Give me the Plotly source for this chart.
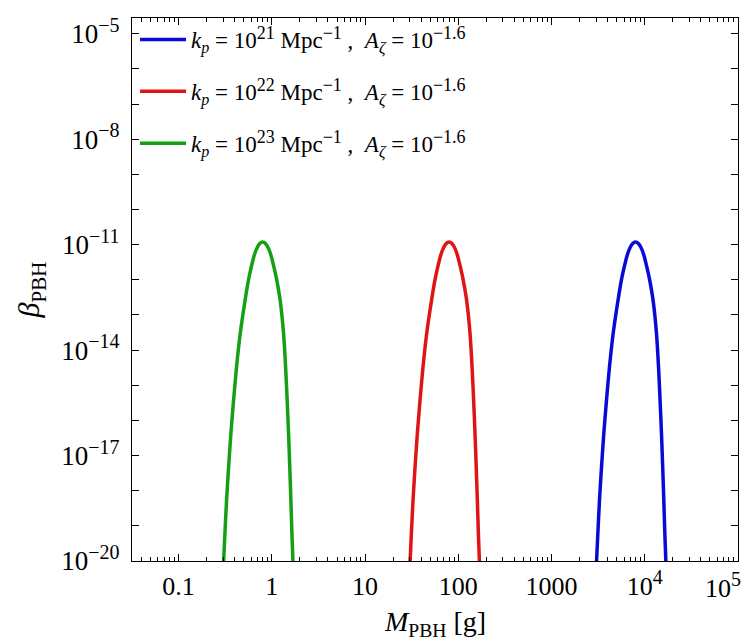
import plotly.graph_objects as go

# Values (same peak shape for the three kp values)
beta_vals = [1e-20, 6.3e-20, 5.5e-19, 4.9e-18, 4.4e-17, 3.9e-16, 3.5e-15, 3.1e-14, 2.75e-13,
             9.5e-13, 2.4e-12, 4.8e-12, 7.6e-12, 1.07e-11, 1.2e-11, 1.07e-11, 7.6e-12,
             4.8e-12, 2.4e-12, 9.5e-13, 2.75e-13, 3.1e-14, 3.5e-15,
             3.9e-16, 4.4e-17, 4.9e-18, 5.5e-19, 6.3e-20, 1e-20]

mass_kp23 = [0.304, 0.314, 0.327, 0.344, 0.364, 0.389, 0.419, 0.459, 0.518,
             0.560, 0.604, 0.644, 0.686, 0.738, 0.796, 0.859, 0.925,
             0.984, 1.049, 1.132, 1.225, 1.334, 1.403,
             1.459, 1.510, 1.556, 1.600, 1.641, 1.683]
mass_kp22 = [30.4, 31.4, 32.7, 34.4, 36.4, 38.9, 41.9, 45.9, 51.8,
             56.0, 60.4, 64.4, 68.6, 73.8, 79.6, 85.9, 92.5,
             98.4, 104.9, 113.2, 122.5, 133.4, 140.3,
             145.9, 151.0, 155.6, 160.0, 164.1, 168.3]
mass_kp21 = [3040, 3140, 3270, 3440, 3640, 3890, 4190, 4590, 5180,
             5600, 6040, 6440, 6860, 7380, 7960, 8590, 9250,
             9840, 10490, 11320, 12250, 13340, 14030,
             14590, 15100, 15560, 16000, 16410, 16830]

SUP = "<span style='font-size:18px'>{}</span>"


def legend_label(exp):
    return ("<i>k</i><sub><i>p</i></sub> = 10<sup>" + SUP.format(exp) + "</sup> Mpc<sup>"
            + SUP.format("−1") + "</sup> ,  <i>A</i><sub><i>ζ</i></sub> = 10<sup>"
            + SUP.format("−1.6") + "</sup>")


kp_exponents = ["21", "22", "23"]
series_mass = [mass_kp21, mass_kp22, mass_kp23]
series_colors = ["#0a0ad8", "#e01414", "#14a014"]

TSUP = "<span style='font-size:20px'>{}</span>"
x_tickvals = [0.1, 1, 10, 100, 1000, 1e4, 1e5]
x_ticktext = ["0.1", "1", "10", "100", "1000", "10<sup>" + TSUP.format("4") + "</sup>", ""]
y_exponents = list(range(-20, -4))
y_labeled = [-20, -17, -14, -11, -8, -5]

FONT = "Liberation Serif"

fig = go.Figure()
for i, (kexp, mass, color) in enumerate(zip(kp_exponents, series_mass, series_colors)):
    fig.add_trace(go.Scatter(
        x=mass, y=beta_vals, mode="lines", name=legend_label(kexp),
        line=dict(color=color, width=3.5, shape="spline", smoothing=0.7),
        legendgroup=f"g{i}", showlegend=True,
    ))

x_minor = [m * 10 ** e for e in range(-2, 5) for m in range(2, 10)]

# last x tick label (kept inside the page, as in the reference)
fig.add_annotation(
    x=5, y=0, xref="x", yref="paper", xanchor="right", yanchor="top",
    xshift=5, yshift=-5, showarrow=False,
    text="10<sup>" + TSUP.format("5") + "</sup>",
    font=dict(family=FONT, size=26, color="black"),
)
# x axis title
fig.add_annotation(
    x=0.5, y=0, xref="paper", yref="paper", xanchor="center", yanchor="bottom",
    yshift=-82, showarrow=False,
    text="<i>M</i><sub>PBH</sub> [g]",
    font=dict(family=FONT, size=28, color="black"),
)

fig.update_layout(
    width=750, height=641,
    margin=dict(l=124, r=20, t=10, b=88, autoexpand=False),
    paper_bgcolor="white", plot_bgcolor="white",
    font=dict(family=FONT, color="black"),
    showlegend=True,
    legend=dict(
        x=0.005, y=1.0, xanchor="left", yanchor="top",
        font=dict(family=FONT, size=23, color="black"),
        bgcolor="rgba(0,0,0,0)", borderwidth=0,
        tracegroupgap=19, itemwidth=46,
    ),
    xaxis=dict(
        type="log", range=[-1.5, 5], automargin=False,
        tickmode="array", tickvals=x_tickvals, ticktext=x_ticktext,
        ticks="inside", ticklen=7, tickwidth=1, tickcolor="black",
        minor=dict(tickmode="array", tickvals=x_minor, ticks="inside", ticklen=4,
                   tickcolor="black", tickwidth=1, showgrid=False),
        showline=True, linecolor="black", linewidth=1, mirror="allticks",
        showgrid=False, zeroline=False,
        tickfont=dict(family=FONT, size=26, color="black"),
        ticklabelstandoff=2,
    ),
    yaxis=dict(
        type="log", range=[-20, -4.55], automargin=False,
        tickmode="array",
        tickvals=[10.0 ** e for e in y_exponents],
        ticktext=["10<sup>" + TSUP.format(f"−{-e}") + "</sup>" if e in y_labeled else ""
                  for e in y_exponents],
        ticks="inside", ticklen=7, tickwidth=1, tickcolor="black",
        showline=True, linecolor="black", linewidth=1, mirror="allticks",
        showgrid=False, zeroline=False,
        tickfont=dict(family=FONT, size=27, color="black"),
        ticklabelstandoff=6,
        title=dict(text="<i>β</i><sub>PBH</sub>", font=dict(family=FONT, size=30, color="black"),
                   standoff=12),
    ),
)

fig.write_html("out.html")
